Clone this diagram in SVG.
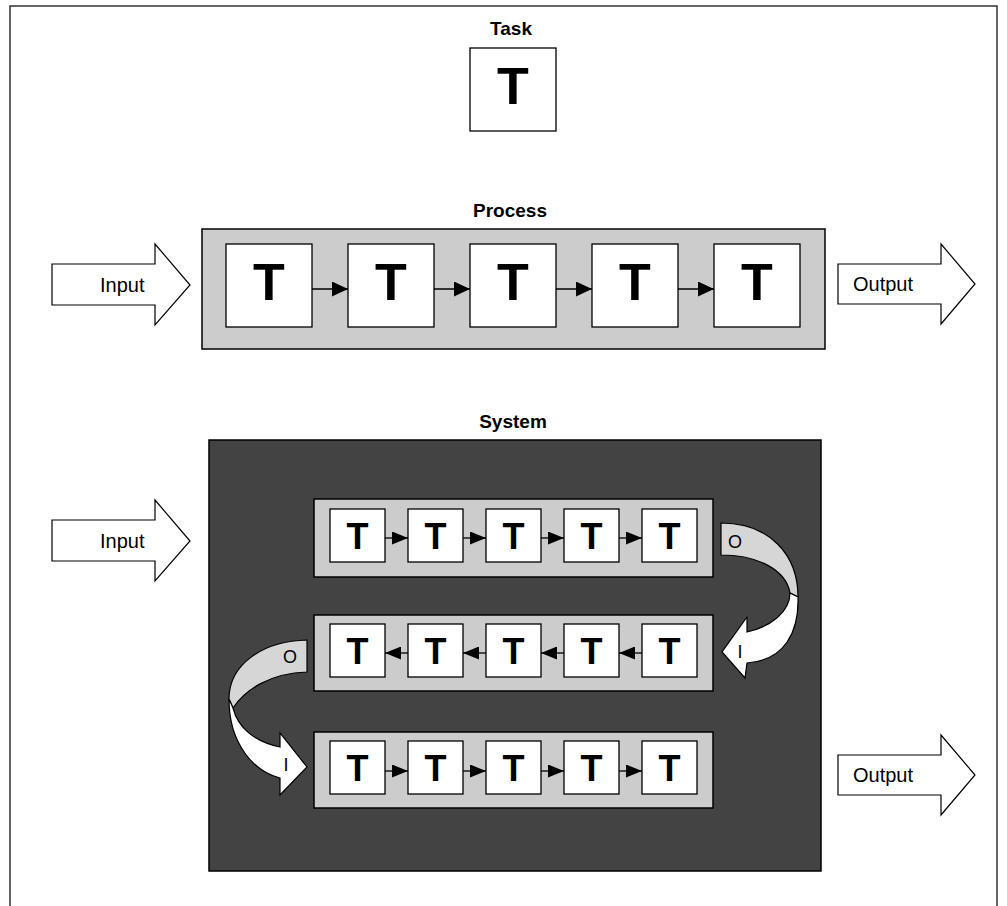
<svg xmlns="http://www.w3.org/2000/svg" width="1007" height="906" viewBox="0 0 1007 906">
  <style>
    .title { font-family: "Liberation Sans", Arial, sans-serif; font-weight: bold; font-size: 19px; fill: #000; text-anchor: middle; }
    .lbl { font-family: "Liberation Sans", Arial, sans-serif; font-size: 20px; fill: #000; }
    .io { font-family: "Liberation Sans", Arial, sans-serif; font-size: 18px; fill: #000; text-anchor: middle; }
    .tbig { font-family: "Liberation Sans", Arial, sans-serif; font-weight: bold; font-size: 52px; fill: #000; text-anchor: middle; }
    .tsm { font-family: "Liberation Sans", Arial, sans-serif; font-weight: bold; font-size: 36px; fill: #000; text-anchor: middle; }
    .box { fill: #fff; stroke: #000; stroke-width: 1.3; }
    .band { fill: #cccccc; stroke: #000; stroke-width: 1.5; }
    .bigarrow { fill: #fff; stroke: #000; stroke-width: 1.2; }
    .link { stroke: #000; stroke-width: 1.3; fill: none; }
    .back { fill: #d6d6d6; stroke: #000; stroke-width: 1.2; }
    .front { fill: #fff; stroke: #000; stroke-width: 1.2; }
  </style>
  <defs>
    <marker id="head" markerUnits="userSpaceOnUse" markerWidth="16" markerHeight="15" refX="16" refY="7.5" orient="auto">
      <path d="M0,0 L16,7.5 L0,15 z" fill="#000"/>
    </marker>
    <marker id="headSm" markerUnits="userSpaceOnUse" markerWidth="16" markerHeight="13" refX="16" refY="6.5" orient="auto">
      <path d="M0,0 L16,6.5 L0,13 z" fill="#000"/>
    </marker>
  </defs>

  <rect x="0" y="0" width="1007" height="906" fill="#fff"/>
  <!-- page frame, open at the bottom -->
  <path d="M10,910 L10,6 L997,6 L997,910" fill="none" stroke="#333" stroke-width="1.5"/>

  <!-- Task -->
  <g id="task">
    <text class="title" x="511" y="35">Task</text>
    <rect class="box" x="470" y="48" width="86" height="83"/>
    <text class="tbig" x="513" y="104">T</text>
  </g>

  <!-- Process -->
  <g id="process">
    <text class="title" x="510" y="217">Process</text>
    <rect class="band" x="202" y="229" width="623" height="120"/>
  </g>
  <g id="process-input">
    <polygon class="bigarrow" points="52,264 155,264 155,244 190,285 155,325 155,305 52,305"/>
    <text class="lbl" x="100" y="292">Input</text>
  </g>
  <g id="process-output">
    <polygon class="bigarrow" points="838,264 941,264 941,244 975,284 941,324 941,304 838,304"/>
    <text class="lbl" x="853" y="291">Output</text>
  </g>
  <g id="p1"><rect class="box" x="226" y="244" width="86" height="83"/><text class="tbig" x="269" y="300">T</text></g>
  <g id="p2"><rect class="box" x="348" y="244" width="86" height="83"/><text class="tbig" x="391" y="300">T</text></g>
  <g id="p3"><rect class="box" x="470" y="244" width="86" height="83"/><text class="tbig" x="513" y="300">T</text></g>
  <g id="p4"><rect class="box" x="592" y="244" width="86" height="83"/><text class="tbig" x="635" y="300">T</text></g>
  <g id="p5"><rect class="box" x="714" y="244" width="86" height="83"/><text class="tbig" x="757" y="300">T</text></g>

  <!-- System -->
  <g id="system">
    <text class="title" x="513" y="428">System</text>
    <rect x="209" y="440" width="612" height="431" fill="#434343" stroke="#000" stroke-width="1.5"/>
    <rect class="band" x="314" y="499" width="399" height="78"/>
    <rect class="band" x="314" y="615" width="399" height="76"/>
    <rect class="band" x="314" y="732" width="399" height="76"/>
  </g>
  <g id="system-input">
    <polygon class="bigarrow" points="52,520 155,520 155,500 190,541 155,581 155,561 52,561"/>
    <text class="lbl" x="100" y="548">Input</text>
  </g>
  <g id="system-output">
    <polygon class="bigarrow" points="838,755 941,755 941,735 975,775 941,815 941,795 838,795"/>
    <text class="lbl" x="853" y="782">Output</text>
  </g>

  <!-- row 1 -->
  <g id="a1"><rect class="box" x="330" y="509" width="55" height="53"/><text class="tsm" x="357.5" y="549">T</text></g>
  <g id="a2"><rect class="box" x="408" y="509" width="55" height="53"/><text class="tsm" x="435.5" y="549">T</text></g>
  <g id="a3"><rect class="box" x="486" y="509" width="55" height="53"/><text class="tsm" x="513.5" y="549">T</text></g>
  <g id="a4"><rect class="box" x="564" y="509" width="55" height="53"/><text class="tsm" x="591.5" y="549">T</text></g>
  <g id="a5"><rect class="box" x="642" y="509" width="55" height="53"/><text class="tsm" x="669.5" y="549">T</text></g>
  <!-- row 2 -->
  <g id="b1"><rect class="box" x="330" y="624" width="55" height="53"/><text class="tsm" x="357.5" y="664">T</text></g>
  <g id="b2"><rect class="box" x="408" y="624" width="55" height="53"/><text class="tsm" x="435.5" y="664">T</text></g>
  <g id="b3"><rect class="box" x="486" y="624" width="55" height="53"/><text class="tsm" x="513.5" y="664">T</text></g>
  <g id="b4"><rect class="box" x="564" y="624" width="55" height="53"/><text class="tsm" x="591.5" y="664">T</text></g>
  <g id="b5"><rect class="box" x="642" y="624" width="55" height="53"/><text class="tsm" x="669.5" y="664">T</text></g>
  <!-- row 3 -->
  <g id="c1"><rect class="box" x="330" y="741" width="55" height="53"/><text class="tsm" x="357.5" y="781">T</text></g>
  <g id="c2"><rect class="box" x="408" y="741" width="55" height="53"/><text class="tsm" x="435.5" y="781">T</text></g>
  <g id="c3"><rect class="box" x="486" y="741" width="55" height="53"/><text class="tsm" x="513.5" y="781">T</text></g>
  <g id="c4"><rect class="box" x="564" y="741" width="55" height="53"/><text class="tsm" x="591.5" y="781">T</text></g>
  <g id="c5"><rect class="box" x="642" y="741" width="55" height="53"/><text class="tsm" x="669.5" y="781">T</text></g>

  <!-- curved hand-over from row 1 to row 2 -->
  <g id="turn-right">
    <path class="back" d="M721,523 C770,523 798,555 798,597 L790,593 C786,570 758,555 721,555 Z"/>
    <path class="front" d="M798,597 C799,632 785,660 747,663 L745,678 L722,652 L747,617 L747,632 C770,627 790,612 790,593 Z"/>
    <text class="io" x="735" y="548">O</text>
    <text class="io" x="740" y="658">I</text>
  </g>
  <!-- curved hand-over from row 2 to row 3 -->
  <g id="turn-left">
    <path class="back" d="M307,640 C262,641 229,665 229,699 L233,708 C245,690 270,673 307,672 Z"/>
    <path class="front" d="M229,699 C229,745 255,772 280,778 L280,795 L307,767 L280,733 L280,747 C255,742 238,728 233,708 Z"/>
    <text class="io" x="290" y="663">O</text>
    <text class="io" x="286" y="771">I</text>
  </g>

  <!-- connectors -->
  <g id="connectors">
    <line class="link" x1="312" y1="289" x2="348" y2="289" marker-end="url(#head)"/>
    <line class="link" x1="434" y1="289" x2="470" y2="289" marker-end="url(#head)"/>
    <line class="link" x1="556" y1="289" x2="592" y2="289" marker-end="url(#head)"/>
    <line class="link" x1="678" y1="289" x2="714" y2="289" marker-end="url(#head)"/>

    <line class="link" x1="385" y1="538" x2="408" y2="538" marker-end="url(#headSm)"/>
    <line class="link" x1="463" y1="538" x2="486" y2="538" marker-end="url(#headSm)"/>
    <line class="link" x1="541" y1="538" x2="564" y2="538" marker-end="url(#headSm)"/>
    <line class="link" x1="619" y1="538" x2="642" y2="538" marker-end="url(#headSm)"/>

    <line class="link" x1="642" y1="653" x2="619" y2="653" marker-end="url(#headSm)"/>
    <line class="link" x1="564" y1="653" x2="541" y2="653" marker-end="url(#headSm)"/>
    <line class="link" x1="486" y1="653" x2="463" y2="653" marker-end="url(#headSm)"/>
    <line class="link" x1="408" y1="653" x2="385" y2="653" marker-end="url(#headSm)"/>

    <line class="link" x1="385" y1="771" x2="408" y2="771" marker-end="url(#headSm)"/>
    <line class="link" x1="463" y1="771" x2="486" y2="771" marker-end="url(#headSm)"/>
    <line class="link" x1="541" y1="771" x2="564" y2="771" marker-end="url(#headSm)"/>
    <line class="link" x1="619" y1="771" x2="642" y2="771" marker-end="url(#headSm)"/>
  </g>
</svg>
